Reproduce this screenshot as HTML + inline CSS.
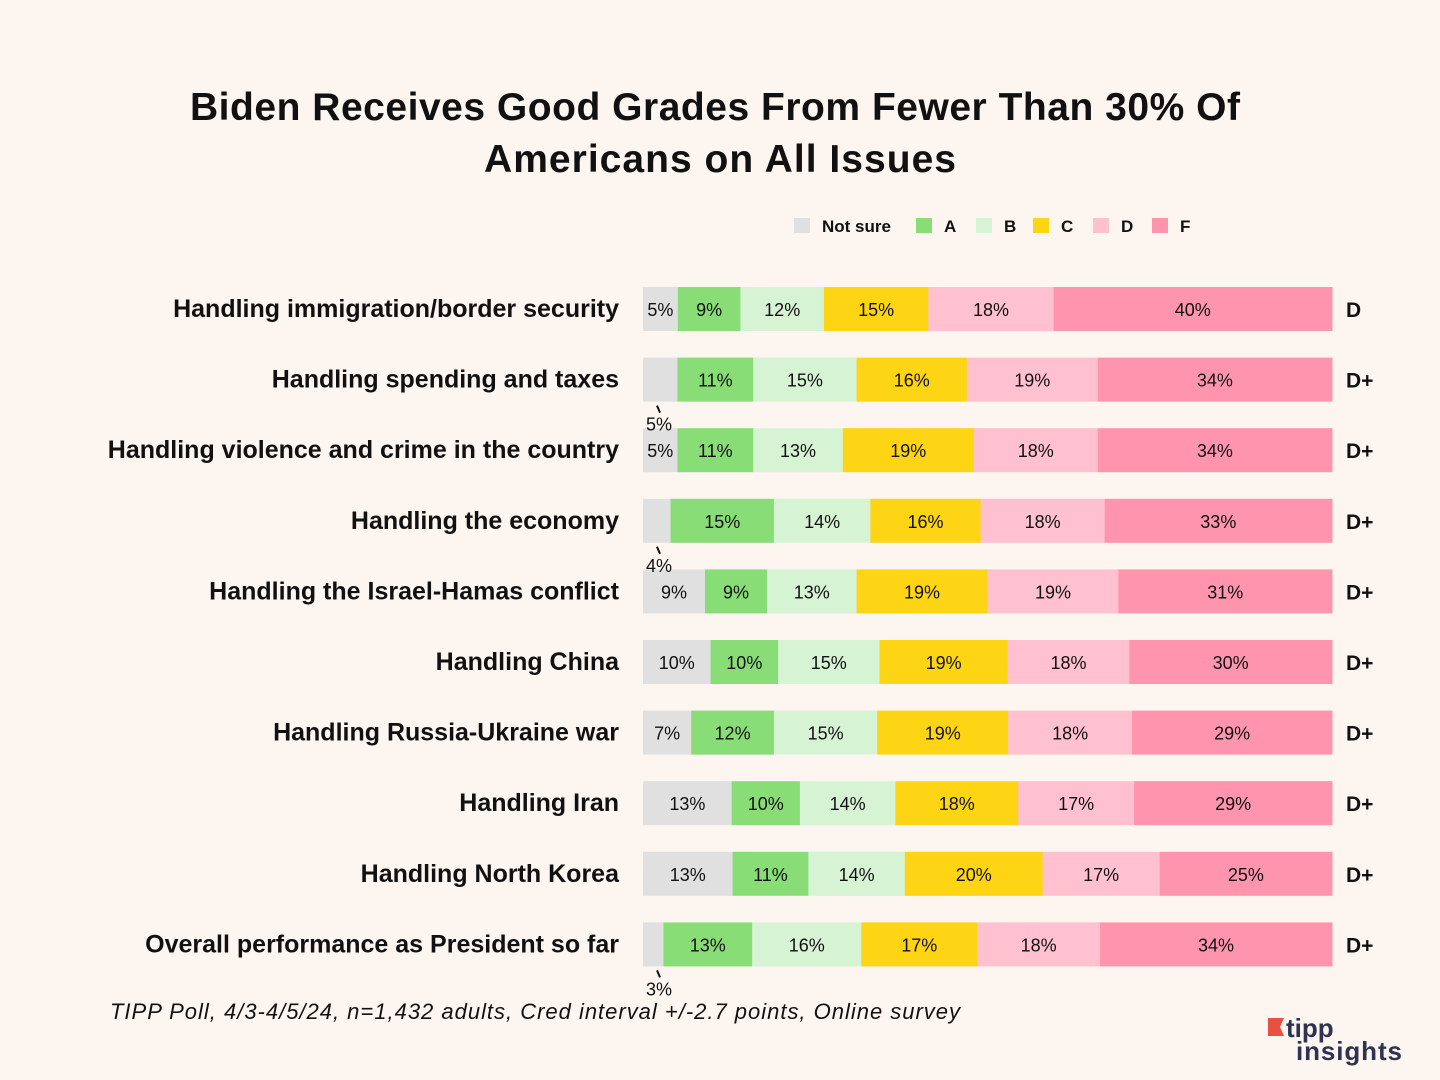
<!DOCTYPE html>
<html><head><meta charset="utf-8"><style>
body{margin:0;background:#fdf5f0;}
svg{display:block;font-family:"Liberation Sans","DejaVu Sans",sans-serif;}
</style></head><body>
<svg id="c" width="1440" height="1080" viewBox="0 0 1440 1080">
<rect width="1440" height="1080" fill="#fdf5f0"/>
<text x="715" y="120" text-anchor="middle" font-size="39" font-weight="bold" fill="#111" textLength="1050">Biden Receives Good Grades From Fewer Than 30% Of</text>
<text x="720" y="172" text-anchor="middle" font-size="39" font-weight="bold" fill="#111" textLength="472">Americans on All Issues</text>
<g id="legend"></g>
<g id="bars"></g>
<g id="labels"></g>
<text x="110" y="1019" font-size="22" font-style="italic" fill="#111" textLength="850">TIPP Poll, 4/3-4/5/24, n=1,432 adults, Cred interval +/-2.7 points, Online survey</text>
<g>
<polygon points="1268,1018 1284,1018 1280,1027 1284,1036 1268,1036" fill="#e8503f"/>
<text x="1286" y="1037" font-size="26" font-weight="bold" fill="#2e3350">tipp</text>
<text x="1296" y="1060" font-size="26" font-weight="bold" fill="#2e3350" textLength="106">insights</text>
</g>
</svg>
<script>
const categories=["Handling immigration/border security","Handling spending and taxes","Handling violence and crime in the country","Handling the economy","Handling the Israel-Hamas conflict","Handling China","Handling Russia-Ukraine war","Handling Iran","Handling North Korea","Overall performance as President so far"];
const notSure=[5,5,5,4,9,10,7,13,13,3];
const gradeA=[9,11,11,15,9,10,12,10,11,13];
const gradeB=[12,15,13,14,13,15,15,14,14,16];
const gradeC=[15,16,19,16,19,19,19,18,20,17];
const gradeD=[18,19,18,18,19,18,18,17,17,18];
const gradeF=[40,34,34,33,31,30,29,29,25,34];
const overall=["D","D+","D+","D+","D+","D+","D+","D+","D+","D+"];
const notSureLabelOutside=[false,true,false,true,false,false,false,false,false,true];
const seriesNames=["Not sure","A","B","C","D","F"];
const colors=["#e0e0e0","#88dd77","#d6f3d4","#fdd515","#ffc0cf","#ff94ae"];
const NS="http://www.w3.org/2000/svg";
const X0=643,X1=1332,Y0=309,STEP=70.6,BH=44;
function xScale(v,total){return (X1-X0)*v/total;}
function yScale(i){return Y0+i*STEP;}
function mk(t,a,p){const e=document.createElementNS(NS,t);for(const k in a)e.setAttribute(k,a[k]);(p||document.getElementById('bars')).appendChild(e);return e;}
const LB=document.getElementById('labels');
const series=[notSure,gradeA,gradeB,gradeC,gradeD,gradeF];
const slug=["not-sure","a","b","c","d","f"];
const lg=document.getElementById('legend');
const lx=[794,916,976,1033,1093,1152];
seriesNames.forEach((n,j)=>{
 const r=mk('rect',{x:lx[j],y:218,width:16,height:15,fill:colors[j]},lg);
 
 
 const t=mk('text',{x:lx[j]+28,y:232,'font-size':17,'font-weight':'bold',fill:'#111'},lg);
 t.textContent=n;
 
 
});
categories.forEach((c,i)=>{
 const yc=yScale(i);
 const total=series.reduce((s,a)=>s+a[i],0);
 const lab=mk('text',{x:619,y:yc+8,'text-anchor':'end','font-size':25,'font-weight':'bold',fill:'#111'},LB);
 lab.textContent=c;
 
 
 let x=X0;
 series.forEach((arr,j)=>{
  const w=xScale(arr[i],total);
  const r=mk('rect',{x:x,y:yc-BH/2,width:w+0.5,height:BH,fill:colors[j]});
  
  
  const t=mk('text',{'text-anchor':'middle','font-size':18,fill:'#111'},LB);
  t.textContent=arr[i]+'%';
  
  
  if(j===0&&notSureLabelOutside[i]){
   t.setAttribute('x',X0+16);t.setAttribute('y',yc+51);
   const l=mk('line',{x1:X0+14,y1:yc+26,x2:X0+17,y2:yc+33,stroke:'#111','stroke-width':2},LB);
   
   
  } else {t.setAttribute('x',x+w/2);t.setAttribute('y',yc+7);}
  x+=w;
 });
 const g=mk('text',{x:1346,y:yc+8,'font-size':21,'font-weight':'bold',fill:'#111'},LB);
 g.textContent=overall[i];
 
 
});
</script>
</body></html>
